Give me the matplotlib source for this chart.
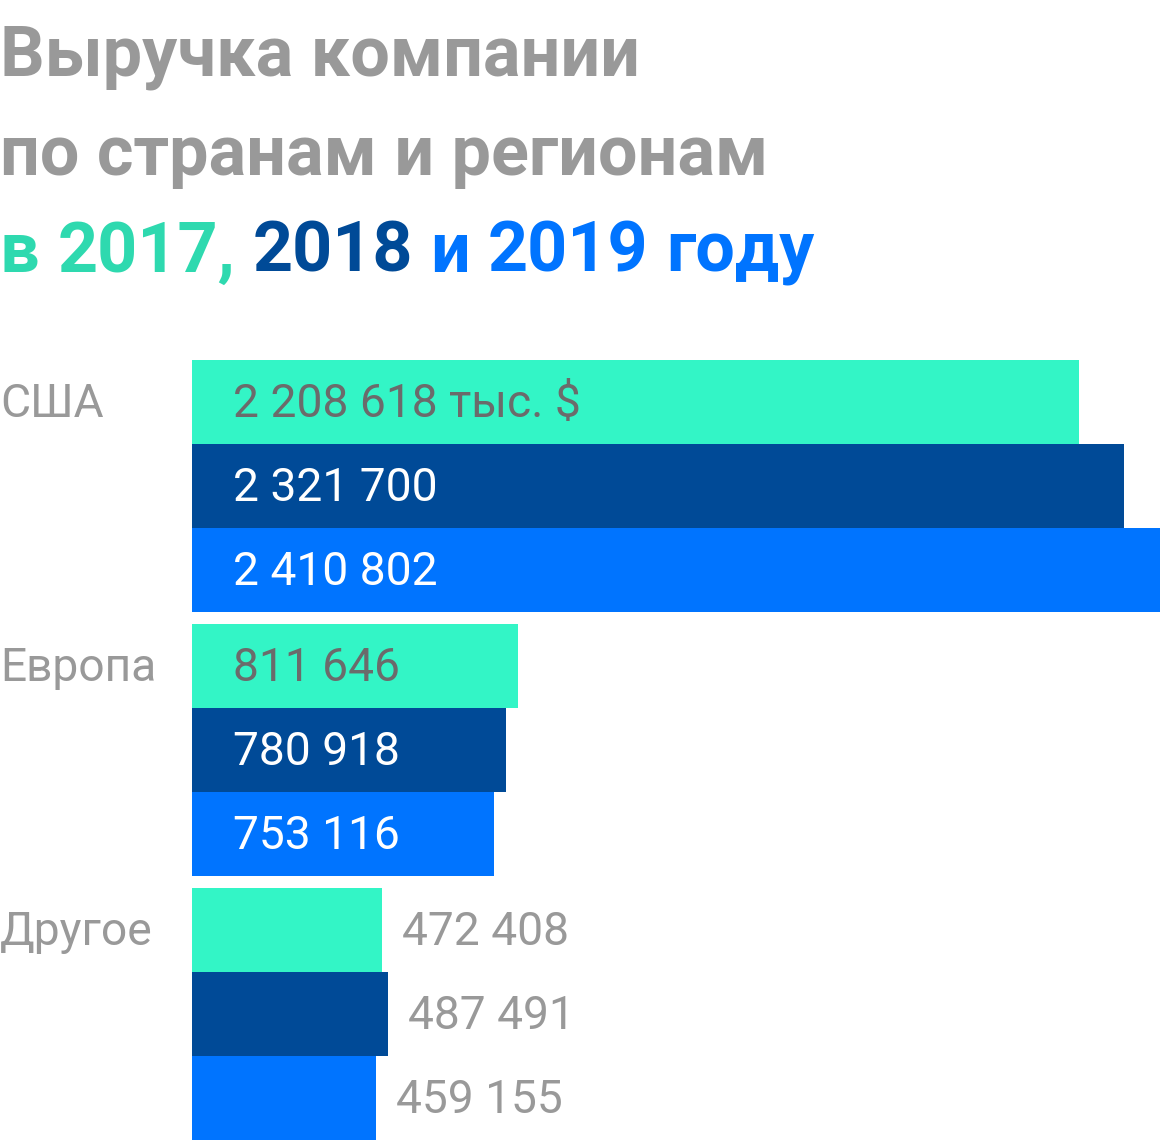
import matplotlib
matplotlib.use("Agg")
import matplotlib.pyplot as plt

# ---- data ----
categories = ["США", "Европа", "Другое"]
years = ["2017", "2018", "2019"]
values = {
    "2017": [2208618, 811646, 472408],
    "2018": [2321700, 780918, 487491],
    "2019": [2410802, 753116, 459155],
}
labels = {
    "2017": ["2 208 618 тыс. $", "811 646", "472 408"],
    "2018": ["2 321 700", "780 918", "487 491"],
    "2019": ["2 410 802", "753 116", "459 155"],
}
title_lines = ["Выручка компании", "по странам и регионам"]

# ---- style ----
bar_colors = {"2017": "#33F5C6", "2018": "#004A97", "2019": "#0074FF"}
title_year_colors = {"2017": "#2ED9AF", "2018": "#004A97", "2019": "#0074FF"}
inside_text = {"2017": "#6B6B6B", "2018": "#FFFFFF", "2019": "#FFFFFF"}
gray = "#999999"
W, H = 1160, 1144
DPI = 100
plt.rcParams["font.family"] = ["Roboto", "DejaVu Sans"]

fig = plt.figure(figsize=(W / DPI, H / DPI), dpi=DPI)
fig.patch.set_facecolor("white")

gap = 1 / 7.0
n_groups = len(categories)
total = n_groups * 3 + (n_groups - 1) * gap
ax = fig.add_axes([192 / W, 4 / H, 968 / W, 780 / H])
ax.set_xlim(0, max(values["2019"]))
ax.set_ylim(total, 0)
ax.axis("off")

val_fs = 33.2
val_w = "normal"
for gi, cat in enumerate(categories):
    g0 = gi * (3 + gap)
    for yi, yr in enumerate(years):
        v = values[yr][gi]
        y = g0 + yi
        ax.barh(y + 0.5, v, height=1.0, color=bar_colors[yr], linewidth=0)
        bar_px = v / max(values["2019"]) * 968
        if bar_px > 250:
            ax.annotate(labels[yr][gi], xy=(0, y + 0.5), xytext=(41, -2),
                        textcoords="offset pixels", va="center", ha="left",
                        fontsize=val_fs, fontweight=val_w, color=inside_text[yr])
        else:
            ax.annotate(labels[yr][gi], xy=(v, y + 0.5), xytext=(20, -2),
                        textcoords="offset pixels", va="center", ha="left",
                        fontsize=val_fs, fontweight=val_w, color=gray)
    # category label
    yc = ax.transData.transform((0, g0 + 0.5))[1] - 2
    fig.text(0, yc / H, cat, fontsize=val_fs, fontweight=val_w, color=gray,
             va="center", ha="left")

# ---- title ----
tfs = 50.5
fig.text(0, 1 - 75 / H, title_lines[0], fontsize=tfs, fontweight="bold",
         color=gray, va="baseline", ha="left")
fig.text(0, 1 - 175 / H, title_lines[1], fontsize=tfs, fontweight="bold",
         color=gray, va="baseline", ha="left")

renderer = fig.canvas.get_renderer()
pieces = [("в", "2017"), (" ", None), ("2017,", "2017"), (" ", None),
          ("2018", "2018"), (" ", None), ("и", "2019"), (" ", None),
          ("2019", "2019"), (" ", None), ("году", "2019")]

def width_of(s):
    t = fig.text(0, 0, s, fontsize=tfs, fontweight="bold")
    w = t.get_window_extent(renderer).width
    t.remove()
    return w

space_w = width_of("a a") - width_of("aa")
x = 0.0
yb = 1 - 272 / H
for s, key in pieces:
    if key is None:
        x += space_w
        continue
    t = fig.text(x / W, yb, s, fontsize=tfs, fontweight="bold",
                 color=title_year_colors[key], va="baseline", ha="left")
    x += t.get_window_extent(renderer).width

fig.savefig("out.png", dpi=DPI, facecolor="white")
